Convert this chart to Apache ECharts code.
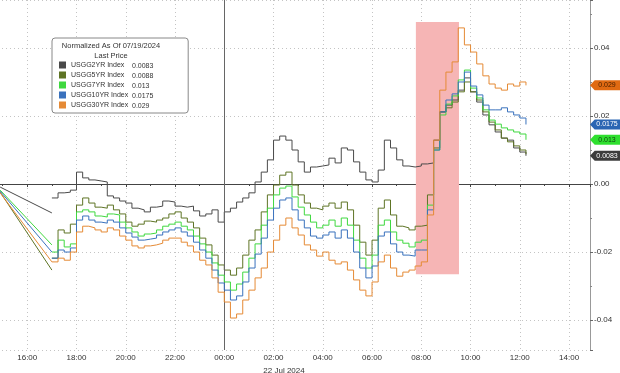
<!DOCTYPE html>
<html><head><meta charset="utf-8">
<script src="https://cdn.jsdelivr.net/npm/echarts@6/dist/echarts.min.js"></script>
<style>html,body{margin:0;padding:0;background:#fff}#c{width:620px;height:373px}</style>
</head><body><div id="c"></div>
<script>
// ---- data ----
const names = ['USGG2YR Index','USGG5YR Index','USGG7YR Index','USGG10YR Index','USGG30YR Index'];
const lastPrice = [0.0083, 0.0088, 0.013, 0.0175, 0.029];
// hours since 21 Jul 2024 00:00 (24 = 00:00 on 22 Jul)
const times = [17,17.25,17.5,17.75,18,18.25,18.5,18.75,19,19.25,19.5,19.75,20,20.25,20.5,20.75,21,21.25,21.5,21.75,
22,22.25,22.5,22.75,23,23.25,23.5,23.75,24,24.25,24.5,24.75,25,25.25,25.5,25.75,26,26.25,26.5,26.75,
27,27.25,27.5,27.75,28,28.25,28.5,28.75,29,29.25,29.5,29.75,30,30.25,30.5,30.75,31,31.25,31.5,31.75,
32,32.25,32.5,32.75,33,33.25,33.5,33.75,34,34.25,34.5,34.75,35,35.25,35.5,35.75,36,36.25];
const usgg2 = [-0.0041,-0.0026,-0.0024,-0.0018,0.0035,0.0018,0.0012,0.0009,0.0006,-0.0035,
-0.0041,-0.0050,-0.0056,-0.0071,-0.0076,-0.0082,-0.0068,-0.0065,-0.0050,-0.0053,
-0.0065,-0.0068,-0.0065,-0.0079,-0.0094,-0.0088,-0.0076,-0.0112,-0.0082,-0.0071,
-0.0053,-0.0041,-0.0026,0.0006,0.0035,0.0071,0.0129,0.0141,0.0129,0.0100,
0.0065,0.0035,0.0050,0.0053,0.0056,0.0076,0.0062,0.0106,0.0100,0.0065,
0.0035,0.0012,0.0006,0.0041,0.0129,0.0106,0.0071,0.0053,0.0050,0.0053,
0.0059,0.0062,0.0129,0.0212,0.0232,0.0247,0.0276,0.0312,0.0271,0.0241,
0.0203,0.0174,0.0153,0.0135,0.0129,0.0106,0.0094,0.0083];
const usgg5 = [-0.0218,-0.0135,-0.0144,-0.0118,-0.0062,-0.0041,-0.0056,-0.0068,-0.0071,-0.0062,
-0.0076,-0.0088,-0.0112,-0.0124,-0.0118,-0.0109,-0.0112,-0.0106,-0.0100,-0.0088,
-0.0082,-0.0100,-0.0112,-0.0129,-0.0159,-0.0179,-0.0209,-0.0238,-0.0253,-0.0268,
-0.0247,-0.0209,-0.0165,-0.0135,-0.0082,-0.0032,-0.0003,0.0026,0.0035,-0.0003,
-0.0032,-0.0056,-0.0071,-0.0076,-0.0065,-0.0056,-0.0071,-0.0053,-0.0076,-0.0121,
-0.0171,-0.0209,-0.0165,-0.0071,-0.0047,-0.0091,-0.0124,-0.0129,-0.0135,-0.0124,
-0.0121,-0.0032,0.0106,0.0212,0.0224,0.0241,0.0271,0.0300,0.0271,0.0247,
0.0212,0.0182,0.0159,0.0135,0.0124,0.0112,0.0100,0.0088];
const usgg7 = [-0.0200,-0.0165,-0.0185,-0.0176,-0.0082,-0.0076,-0.0082,-0.0094,-0.0097,-0.0088,
-0.0091,-0.0112,-0.0129,-0.0141,-0.0153,-0.0147,-0.0144,-0.0135,-0.0124,-0.0118,
-0.0112,-0.0124,-0.0135,-0.0153,-0.0176,-0.0200,-0.0232,-0.0268,-0.0288,-0.0312,
-0.0294,-0.0259,-0.0218,-0.0176,-0.0121,-0.0071,-0.0032,-0.0012,-0.0006,-0.0038,
-0.0068,-0.0091,-0.0112,-0.0129,-0.0121,-0.0106,-0.0124,-0.0100,-0.0121,-0.0165,
-0.0218,-0.0247,-0.0209,-0.0121,-0.0106,-0.0141,-0.0165,-0.0174,-0.0185,-0.0171,
-0.0165,-0.0062,0.0100,0.0203,0.0235,0.0259,0.0306,0.0335,0.0282,0.0253,
0.0218,0.0188,0.0176,0.0165,0.0159,0.0153,0.0147,0.0130];
const usgg10 = [-0.0218,-0.0194,-0.0200,-0.0188,-0.0106,-0.0094,-0.0106,-0.0112,-0.0115,-0.0106,
-0.0112,-0.0129,-0.0144,-0.0156,-0.0165,-0.0162,-0.0159,-0.0150,-0.0141,-0.0135,
-0.0129,-0.0141,-0.0153,-0.0171,-0.0194,-0.0218,-0.0253,-0.0291,-0.0312,-0.0341,
-0.0329,-0.0288,-0.0247,-0.0206,-0.0159,-0.0106,-0.0071,-0.0047,-0.0041,-0.0076,
-0.0106,-0.0129,-0.0153,-0.0159,-0.0150,-0.0141,-0.0159,-0.0135,-0.0159,-0.0200,
-0.0247,-0.0276,-0.0241,-0.0153,-0.0141,-0.0176,-0.0200,-0.0209,-0.0212,-0.0194,
-0.0194,-0.0076,0.0100,0.0212,0.0247,0.0265,0.0300,0.0329,0.0288,0.0262,
0.0232,0.0218,0.0218,0.0224,0.0212,0.0203,0.0194,0.0175];
const usgg30 = [-0.0229,-0.0218,-0.0224,-0.0200,-0.0141,-0.0124,-0.0129,-0.0135,-0.0141,-0.0129,
-0.0135,-0.0153,-0.0165,-0.0182,-0.0188,-0.0182,-0.0179,-0.0174,-0.0165,-0.0159,
-0.0159,-0.0171,-0.0182,-0.0200,-0.0224,-0.0238,-0.0276,-0.0318,-0.0347,-0.0394,
-0.0382,-0.0341,-0.0312,-0.0276,-0.0247,-0.0200,-0.0165,-0.0121,-0.0100,-0.0129,
-0.0150,-0.0179,-0.0194,-0.0212,-0.0200,-0.0224,-0.0235,-0.0229,-0.0253,-0.0282,
-0.0312,-0.0329,-0.0288,-0.0229,-0.0209,-0.0247,-0.0271,-0.0259,-0.0253,-0.0241,
-0.0229,-0.0091,0.0129,0.0276,0.0329,0.0359,0.0459,0.0409,0.0388,0.0353,
0.0318,0.0294,0.0282,0.0276,0.0294,0.0288,0.0300,0.0290];
// Friday-close gap: first print and first print after the weekend gap
const gapTimes = [14.9, 17];
const gapStart = [-0.0009,-0.0024,-0.0018,-0.0021,-0.0026];
const gapEnd = [-0.0085,-0.0253,-0.0179,-0.0200,-0.0229];
// highlighted window (hours) and its value span
const highlightX = [31.78, 33.53];
const highlightY = [0.0476, -0.0265];
const dayBreak = 24;
const xMin = 14, xMax = 38.85, yMin = -0.0488, yMax = 0.0541;

// ---- styles ----
const colors = ['#4a4a4a','#5e7425','#3fd83f','#3a72bd','#e58a35'];
const boxColors = ['#3c3c3c','#5e7425','#2fe02f','#2b66b3','#e06a12'];
const boxText = ['#ffffff','#ffffff','#114411','#ffffff','#4a2000'];
const boxShown = [true,false,true,true,true];
const FONT = 'Liberation Sans';
const pad = n => (n < 10 ? '0' : '') + n;
const seriesValues = [usgg2, usgg5, usgg7, usgg10, usgg30];

const series = [];
names.forEach((n, i) => {
  const s = {
    name: n, type: 'line', step: 'end', showSymbol: false, z: 3 + i,
    data: times.map((t, j) => [t, seriesValues[i][j]]),
    lineStyle: {width: 1, color: colors[i]}, itemStyle: {color: colors[i]},
    emphasis: {disabled: true}
  };
  if (boxShown[i]) {
    s.markPoint = {
      silent: true, symbol: 'path://M0,5L5,0L32,0L32,10L5,10Z', symbolSize: [30, 10], symbolOffset: ['50%', 0],
      itemStyle: {color: boxColors[i]},
      label: {show: true, position: 'inside', offset: [2, 0], fontSize: 7, fontFamily: FONT, color: boxText[i], formatter: String(lastPrice[i])},
      data: [{coord: [xMax, lastPrice[i]]}]
    };
  }
  if (i === 0) {
    s.markArea = {silent: true, itemStyle: {color: '#f6b5b5'},
      data: [[{xAxis: highlightX[0], yAxis: highlightY[0]}, {xAxis: highlightX[1], yAxis: highlightY[1]}]]};
    s.markLine = {silent: true, symbol: 'none', label: {show: false}, lineStyle: {color: '#666', type: 'solid', width: 1},
      data: [{xAxis: dayBreak}]};
  }
  series.push(s);
  series.push({
    name: n, type: 'line', showSymbol: false, z: 3 + i, emphasis: {disabled: true},
    data: gapTimes.map((t, j) => [t, j === 0 ? gapStart[i] : gapEnd[i]]),
    lineStyle: {width: 1, color: colors[i]}, itemStyle: {color: colors[i]}
  });
});

const chart = echarts.init(document.getElementById('c'), null, {renderer: 'canvas'});
chart.setOption({
  animation: false,
  backgroundColor: '#fff',
  textStyle: {fontFamily: FONT},
  grid: {left: -22, right: 30, top: 0, bottom: 23, outerBoundsMode: 'none', containLabel: false},
  title: [{
    left: 55, top: 41, padding: 0, z: 10,
    text: '{a|Normalized As Of 07/19/2024}\n{a|Last Price}',
    textStyle: {fontWeight: 'normal', rich: {a: {width: 112, align: 'center', fontSize: 7.5, fontWeight: 'normal', lineHeight: 10, color: '#333', fontFamily: FONT}}}
  }, {
    left: 132, top: 61, padding: 0, z: 10,
    text: lastPrice.map(String).join('\n'),
    textStyle: {fontWeight: 'normal', fontSize: 7, lineHeight: 10, color: '#333', fontFamily: FONT}
  }],
  legend: {
    orient: 'vertical', left: 52, top: 38, padding: [23, 60, 4, 7],
    itemWidth: 7, itemHeight: 7, itemGap: 2, icon: 'rect', selectedMode: false,
    backgroundColor: '#fff', borderColor: '#888', borderWidth: 1, borderRadius: 3,
    data: names,
    textStyle: {fontSize: 7, lineHeight: 8, color: '#333', fontFamily: FONT}
  },
  xAxis: {
    type: 'value', min: xMin, max: xMax, interval: 2,
    axisLine: {lineStyle: {color: '#444'}},
    axisTick: {length: 3, lineStyle: {color: '#444'}},
    minorTick: {show: true, splitNumber: 2, length: 2, lineStyle: {color: '#444'}},
    axisLabel: {fontSize: 8, color: '#333', fontFamily: FONT, margin: 4, showMinLabel: false, showMaxLabel: false,
      formatter: v => pad(Math.round(v) % 24) + ':00'},
    splitLine: {show: true, lineStyle: {color: '#c4c4c4', type: [1, 3]}},
    name: '22 Jul 2024', nameLocation: 'middle', nameGap: 9,
    nameTextStyle: {fontSize: 8, color: '#333', fontFamily: FONT}
  },
  yAxis: {
    type: 'value', position: 'right', min: yMin, max: yMax, splitNumber: 5,
    axisLine: {show: true, lineStyle: {color: '#999', width: 1}},
    axisTick: {show: true, length: 3, lineStyle: {color: '#666'}},
    minorTick: {show: true, splitNumber: 2, length: 2, lineStyle: {color: '#888'}},
    axisLabel: {fontSize: 8, color: '#333', fontFamily: FONT, margin: 4, showMinLabel: false, showMaxLabel: false,
      formatter: v => v.toFixed(2)},
    splitLine: {show: true, lineStyle: {color: '#c4c4c4', type: [1, 3]}}
  },
  series: series
});
</script></body></html>
